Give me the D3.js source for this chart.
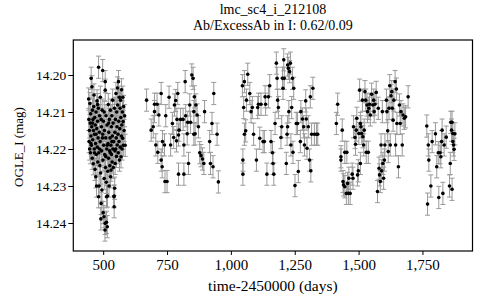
<!DOCTYPE html>
<html>
<head>
<meta charset="utf-8">
<script src="https://cdn.jsdelivr.net/npm/d3@7"></script>
<style>
  body { margin: 0; background: #fff; }
  text { font-family: "Liberation Serif", "DejaVu Serif", serif; fill: #000; }
</style>
</head>
<body>
<div id="chart"></div>
<script>
// titles and labels
var titleLines = ["lmc_sc4_i_212108", "Ab/ExcessAb in I: 0.62/0.09"];
var xLabel = "time-2450000 (days)";
var yLabel = "OGLE_I (mag)";
var xTicks = [500, 750, 1000, 1250, 1500, 1750];
var yTicks = [14.20, 14.21, 14.22, 14.23, 14.24];
var magErr = 0.003;

var season1 = [
  [443,14.2065],[444,14.2120],[445,14.2180],[446,14.2150],[447,14.2200],[448,14.2077],[449,14.2130],[450,14.2210],
  [451,14.2105],[452,14.2165],[453,14.2009],[454,14.2190],[455,14.2140],[456,14.2032],[457,14.2225],[458,14.2095],
  [459,14.2175],[460,14.2120],[461,14.2240],[462,14.2150],[463,14.2085],[464,14.2054],[465,14.2200],[466,14.2160],
  [467,14.2115],[468,14.2255],[469,14.2135],[470,14.2185],[471,14.2275],[472,14.2100],[473,14.2215],[474,14.2300],
  [475,14.2145],[476,14.2070],[477,14.2195],[478,14.2125],[479,14.2235],[480,14.2170],[481,14.2090],[482,14.1979],
  [482,14.2329],[483,14.2210],[484,14.2300],[485,14.2155],[486,14.2110],[487,14.2245],[488,14.2180],[489,14.2060],
  [490,14.2265],[491,14.2389],[492,14.2347],[493,14.2140],[494,14.2205],[495,14.2311],[496,14.2095],[497,14.2170],
  [498,14.1988],[499,14.2230],[500,14.2372],[501,14.2125],[502,14.2190],[503,14.2383],[504,14.2280],[505,14.2150],
  [506,14.2215],[507,14.2419],[508,14.2018],[508,14.2041],[508,14.2401],[509,14.2250],[510,14.2170],[511,14.2110],
  [512,14.2290],[513,14.2329],[513,14.2398],[514,14.2200],[515,14.2135],[516,14.2410],[517,14.2327],[518,14.2260],
  [519,14.2185],[520,14.2080],[521,14.2225],[522,14.2155],[523,14.2300],[524,14.2120],[525,14.2205],[526,14.2245],
  [527,14.2170],[528,14.2095],[529,14.2275],[530,14.2190],[531,14.2257],[532,14.2140],[533,14.2215],[534,14.2110],
  [535,14.2235],[536,14.2165],[537,14.2068],[538,14.2200],[539,14.2130],[540,14.2250],[541,14.2180],[542,14.2329],
  [543,14.2327],[543,14.2356],[544,14.2090],[545,14.2306],[546,14.2155],[547,14.2239],[548,14.2120],[549,14.2200],
  [550,14.2050],[551,14.2170],[552,14.2220],[553,14.2100],[554,14.2140],[555,14.2189],[556,14.2035],[557,14.2081],
  [558,14.2160],[559,14.2210],[560,14.2018],[561,14.2125],[562,14.2180],[563,14.2060],[564,14.2230],[565,14.2145],
  [566,14.2090],[567,14.2195],[568,14.2068],[569,14.2115],[570,14.2221],[571,14.2165],[572,14.2040],[573,14.2135],
  [574,14.2200],[575,14.2100],[576,14.2171],[577,14.2060],[578,14.2126],[579,14.2190],[580,14.2085],[582,14.2150],
  [584,14.2110],[586,14.2190],
  [452,14.2185],[458,14.2130],[466,14.2210],[472,14.2160],[478,14.2080],[486,14.2200],[492,14.2120],[498,14.2160],
  [504,14.2100],[510,14.2220],[516,14.2190],[522,14.2130],[528,14.2210],[534,14.2180],[546,14.2205]
];
var season2 = [
  [670,14.2068],[688,14.2149],[696,14.2140],[701,14.2079],[701,14.2099],[706,14.2189],[711,14.2079],[714,14.2209],
  [718,14.2108],[727,14.2050],[727,14.2230],[731,14.2248],[732,14.2180],[740,14.2189],[742,14.2288],[750,14.2288],
  [745,14.2110],[758,14.2060],[764,14.2189],[771,14.2131],[776,14.2169],[779,14.2081],[784,14.2069],[787,14.2178],
  [789,14.2120],[792,14.2050],[795,14.2162],[797,14.2149],[795,14.2268],[803,14.2120],[813,14.2120],[816,14.2189],
  [816,14.2268],[821,14.2018],[823,14.2110],[829,14.2159],[831,14.2128],[834,14.2239],[839,14.2081],[842,14.2128],
  [847,14.2000],[852,14.2009],[855,14.2160],[857,14.2059],[855,14.2099],[860,14.2159],[863,14.2081],[868,14.2108],
  [873,14.2140],[878,14.2210],[883,14.2218],[889,14.2227],[894,14.2239],[897,14.2099],[917,14.2180],[920,14.2239],
  [926,14.2131],[930,14.2248],[933,14.2050],[946,14.2160],[951,14.2289]
];
var season3 = [
  [1045,14.2029],[1047,14.2230],[1047,14.2268],[1050,14.2088],[1053,14.2018],[1053,14.2160],[1058,14.2151],[1061,14.2068],
  [1066,14.1998],[1074,14.2050],[1079,14.2099],[1084,14.2088],[1089,14.2160],[1100,14.2230],[1105,14.2088],[1108,14.2079],
  [1113,14.2171],[1118,14.2079],[1126,14.2180],[1131,14.2180],[1134,14.2059],[1136,14.2079],[1141,14.2268],[1147,14.2059],
  [1152,14.2029],[1157,14.2180],[1163,14.2210],[1165,14.2239],[1168,14.2268],[1173,14.2131],[1178,14.1968],[1181,14.2009],
  [1183,14.2068],[1186,14.2088],[1196,14.2169],[1199,14.2140],[1202,14.2009],[1204,14.2036],[1207,14.1959],[1209,14.2009],
  [1217,14.2239],[1220,14.2160],[1222,14.2140],[1222,14.1973],[1225,14.1982],[1227,14.2099],[1230,14.1991],[1233,14.1968],
  [1235,14.2189],[1238,14.2088],[1241,14.2009],[1243,14.2209],[1246,14.2036],[1251,14.2299],[1256,14.2131],[1261,14.2131],
  [1264,14.2261],[1272,14.2180],[1274,14.2099],[1280,14.2119],[1285,14.2140],[1288,14.2189],[1293,14.2070],[1295,14.2119],
  [1298,14.2198],[1303,14.2140],[1308,14.2230],[1311,14.2059],[1313,14.2259],[1316,14.2160],[1321,14.2036],[1327,14.2160],
  [1335,14.2160],[1340,14.2160]
];
var season4 = [
  [1413,14.2131],[1418,14.2079],[1431,14.2221],[1431,14.2230],[1436,14.2149],[1439,14.2288],[1441,14.2297],[1446,14.2209],
  [1446,14.2302],[1452,14.2320],[1454,14.2209],[1457,14.2293],[1460,14.2320],[1462,14.2279],[1467,14.2320],[1475,14.2268],
  [1478,14.2279],[1480,14.2140],[1486,14.2169],[1488,14.2187],[1491,14.2149],[1493,14.2117],[1496,14.2270],[1499,14.2259],
  [1501,14.2158],[1504,14.2041],[1507,14.2131],[1507,14.2239],[1509,14.2140],[1512,14.2158],[1515,14.2068],[1517,14.2167],
  [1520,14.2189],[1522,14.2149],[1525,14.2045],[1528,14.2068],[1530,14.2209],[1533,14.2081],[1535,14.2099],[1538,14.2209],
  [1540,14.2090],[1543,14.2079],[1546,14.2108],[1551,14.2052],[1556,14.2081],[1559,14.2068],[1561,14.2099],[1564,14.2079],
  [1569,14.2047],[1574,14.2315],[1577,14.2090],[1580,14.2252],[1582,14.2270],[1585,14.2288],[1588,14.2189],[1590,14.2259],
  [1593,14.2099],[1595,14.2239],[1598,14.2279],[1601,14.2230],[1603,14.2189],[1609,14.2068],[1611,14.2099],[1614,14.2151],
  [1616,14.2207],[1619,14.2090],[1622,14.2029],[1624,14.2189],[1627,14.2056],[1630,14.2045],[1632,14.2090],[1635,14.2122],
  [1638,14.2068],[1643,14.2018],[1645,14.2189],[1648,14.2038],[1650,14.2131],[1656,14.2248],[1660,14.2081],[1663,14.2131],
  [1666,14.2099],[1671,14.2189],[1674,14.2108],[1679,14.2117],[1684,14.2113],[1694,14.2059]
];
var season5 = [
  [1767,14.2138],[1770,14.2349],[1773,14.2189],[1775,14.2230],[1783,14.2300],[1788,14.2180],[1801,14.2159],[1806,14.2248],
  [1812,14.2210],[1814,14.2331],[1819,14.2210],[1822,14.2221],[1825,14.2180],[1827,14.2149],[1830,14.2320],[1835,14.2189],
  [1843,14.2168],[1856,14.2300],[1859,14.2239],[1861,14.2128],[1864,14.2149],[1866,14.2309],[1866,14.2128],[1869,14.2180],
  [1869,14.2158],[1872,14.2189],[1874,14.2201],[1877,14.2159]
];

var data = season1.concat(season2, season3, season4, season5);

var W = 480, H = 300;
var margin = {top: 40, right: 7.5, bottom: 49, left: 73.3},
    width = W - margin.left - margin.right,
    height = H - margin.top - margin.bottom;

var svg = d3.select("#chart")
  .append("svg")
    .attr("width", W)
    .attr("height", H);

var g = svg.append("g")
    .attr("transform", "translate(" + margin.left + "," + margin.top + ")");

var x = d3.scaleLinear()
    .domain([383, 1946])
    .range([0, width]);

// magnitudes: brighter (smaller) at the top
var y = d3.scaleLinear()
    .domain([14.19054, 14.24757])
    .range([0, height]);

// error bars
var bars = g.append("g")
    .attr("stroke", "#9a9a9a")
    .attr("stroke-width", 1);

bars.selectAll("line.err")
  .data(data)
  .enter()
  .append("line")
    .attr("x1", d => x(d[0]))
    .attr("x2", d => x(d[0]))
    .attr("y1", d => y(d[1] - magErr))
    .attr("y2", d => y(d[1] + magErr));

bars.selectAll("line.capTop")
  .data(data)
  .enter()
  .append("line")
    .attr("x1", d => x(d[0]) - 2.5)
    .attr("x2", d => x(d[0]) + 2.5)
    .attr("y1", d => y(d[1] - magErr))
    .attr("y2", d => y(d[1] - magErr));

bars.selectAll("line.capBot")
  .data(data)
  .enter()
  .append("line")
    .attr("x1", d => x(d[0]) - 2.5)
    .attr("x2", d => x(d[0]) + 2.5)
    .attr("y1", d => y(d[1] + magErr))
    .attr("y2", d => y(d[1] + magErr));

// points
g.append("g")
  .selectAll("circle")
  .data(data)
  .enter()
  .append("circle")
    .attr("cx", d => x(d[0]))
    .attr("cy", d => y(d[1]))
    .attr("r", 1.8)
    .attr("fill", "#000");

// axes
var xAxis = g.append("g")
    .attr("transform", "translate(0," + height + ")")
    .call(d3.axisBottom(x).tickValues(xTicks).tickSize(4).tickSizeOuter(0).tickFormat(d3.format(",")));
xAxis.select(".domain").remove();
xAxis.selectAll("text")
    .style("font-size", "15px")
    .attr("dy", "0.71em")
    .attr("y", 8);

var yAxis = g.append("g")
    .call(d3.axisLeft(y).tickValues(yTicks).tickSize(5).tickSizeOuter(0).tickFormat(d3.format(".2f")));
yAxis.select(".domain").remove();
yAxis.selectAll("text")
    .style("font-size", "13.5px")
    .attr("x", -7);

// frame
g.append("rect")
    .attr("width", width)
    .attr("height", height)
    .attr("fill", "none")
    .attr("stroke", "#000")
    .attr("stroke-width", 1.2);

// titles
svg.append("text")
    .attr("x", margin.left + width / 2)
    .attr("y", 14)
    .attr("text-anchor", "middle")
    .style("font-size", "14px")
    .text(titleLines[0]);

svg.append("text")
    .attr("x", margin.left + width / 2)
    .attr("y", 30)
    .attr("text-anchor", "middle")
    .style("font-size", "14px")
    .text(titleLines[1]);

svg.append("text")
    .attr("x", margin.left + width / 2)
    .attr("y", 291)
    .attr("text-anchor", "middle")
    .style("font-size", "15.5px")
    .text(xLabel);

svg.append("text")
    .attr("transform", "translate(23," + (margin.top + 107) + ")rotate(-90)")
    .attr("text-anchor", "middle")
    .style("font-size", "13px")
    .text(yLabel);
</script>
</body>
</html>
